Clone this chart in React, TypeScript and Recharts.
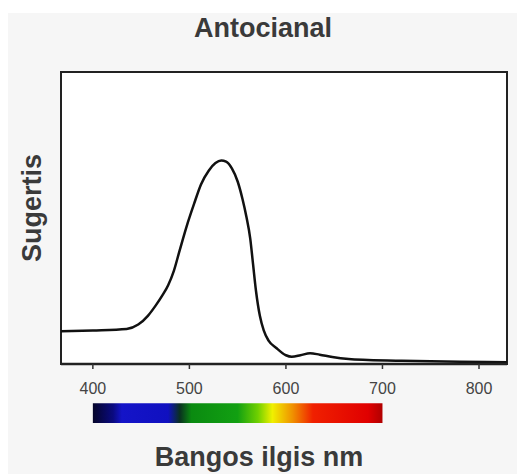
import React from 'react';
import { LineChart, Line, XAxis, YAxis, ReferenceArea } from 'recharts';

// wavelength (nm) and relative absorbance
const wavelengths = [367, 400, 435, 447, 457, 465, 472, 478, 484, 490, 497, 505, 512, 520, 527, 533, 538, 544, 550, 555, 559, 563, 566, 569, 573, 577, 582, 590, 600, 606, 615, 625, 635, 648, 665, 685, 720, 780, 829];
const absorbance = [0.112, 0.115, 0.12, 0.135, 0.165, 0.2, 0.235, 0.27, 0.32, 0.39, 0.47, 0.55, 0.615, 0.662, 0.688, 0.697, 0.693, 0.67, 0.625, 0.565, 0.505, 0.43, 0.34, 0.25, 0.165, 0.115, 0.08, 0.055, 0.03, 0.025, 0.03, 0.037, 0.032, 0.024, 0.017, 0.014, 0.011, 0.008, 0.006];

const xTicks = [400, 500, 600, 700, 800];

// visible spectrum strip under the axis
const spectrumStops = [
    { offset: 0, color: '#05052a' },
    { offset: 0.07, color: '#0a0a80' },
    { offset: 0.1, color: '#1414c8' },
    { offset: 0.26, color: '#1010c0' },
    { offset: 0.3, color: '#0a3020' },
    { offset: 0.34, color: '#0a8a10' },
    { offset: 0.5, color: '#12a012' },
    { offset: 0.57, color: '#70d000' },
    { offset: 0.62, color: '#f0f000' },
    { offset: 0.69, color: '#f09000' },
    { offset: 0.76, color: '#f02000' },
    { offset: 0.95, color: '#e00000' },
    { offset: 1, color: '#b00000' },
];

const data = wavelengths.map((nm, i) => ({ nm, a: absorbance[i] }));

const labelStyle = { fontFamily: '"Liberation Sans", Arial, sans-serif', fontWeight: 700, fontSize: 27, fill: '#3a3a3a' };

export default function App() {
    return (
        <div style={{ position: 'absolute', top: 0, left: 0, width: 517, height: 474, background: '#fff' }}>
            <div style={{ position: 'absolute', top: 13, left: 8, right: 0, bottom: 0, background: '#f6f6f6' }} />
            <div
                style={{
                    position: 'absolute', top: 15, left: 0, width: 526, textAlign: 'center',
                    fontFamily: '"Liberation Sans", Arial, sans-serif', fontWeight: 700, fontSize: 27, lineHeight: '27px', color: '#3a3a3a',
                }}
            >
                Antocianal
            </div>
            <div style={{ position: 'absolute', top: 0, left: 0 }}>
                <LineChart width={517} height={474} data={data} margin={{ top: 72, right: 10, bottom: 0, left: 0 }}>
                    <defs>
                        <linearGradient id="spectrum" x1="0" y1="0" x2="1" y2="0">
                            {spectrumStops.map((s) => (
                                <stop key={s.offset} offset={s.offset} stopColor={s.color} />
                            ))}
                        </linearGradient>
                    </defs>
                    <XAxis
                        dataKey="nm"
                        type="number"
                        domain={[367, 829]}
                        ticks={xTicks}
                        height={110}
                        tickSize={5}
                        tickMargin={14}
                        axisLine={{ stroke: '#222', strokeWidth: 2.5 }}
                        tickLine={{ stroke: '#333', strokeWidth: 1.5 }}
                        tick={{ fill: '#444', fontSize: 16, fontFamily: '"Liberation Sans", Arial, sans-serif' }}
                        label={{ value: 'Bangos ilgis nm', position: 'insideBottom', offset: 8, dx: -25, style: labelStyle }}
                    />
                    <YAxis
                        type="number"
                        domain={[0, 1]}
                        width={61}
                        tick={false}
                        axisLine={false}
                        tickLine={false}
                        label={{ value: 'Sugertis', angle: -90, position: 'insideLeft', offset: 31, dy: -10, style: { ...labelStyle, textAnchor: 'middle' } }}
                    />
                    <ReferenceArea x1={367} x2={829} y1={0} y2={1} fill="#fff" fillOpacity={1} stroke="#222" strokeWidth={2} />
                    <ReferenceArea x1={400} x2={700} y1={-0.202} y2={-0.134} ifOverflow="visible" fill="url(#spectrum)" fillOpacity={1} />
                    <Line type="monotone" dataKey="a" stroke="#111" strokeWidth={2.5} dot={false} isAnimationActive={false} />
                </LineChart>
            </div>
        </div>
    );
}
